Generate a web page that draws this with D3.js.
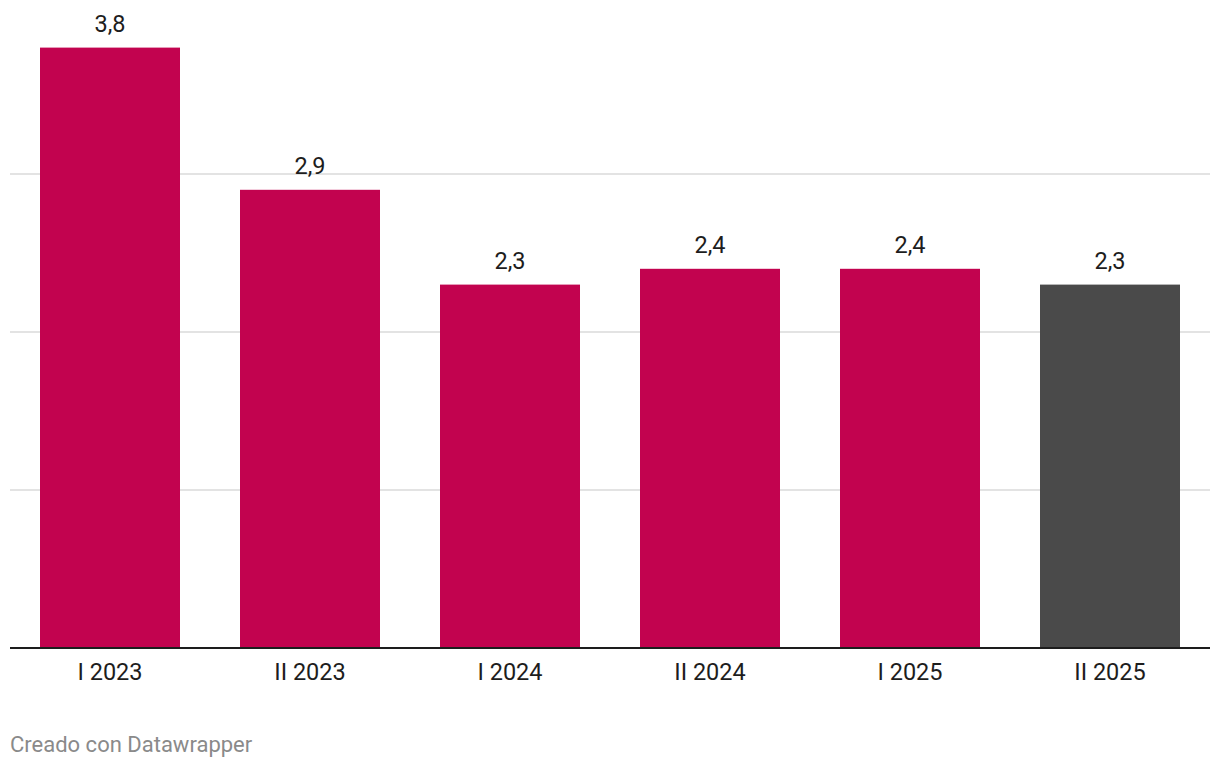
<!DOCTYPE html>
<html>
<head>
<meta charset="utf-8">
<script src="https://cdn.jsdelivr.net/npm/d3@7"></script>
<style>
  html, body { margin: 0; padding: 0; background: #fff; }
  svg { display: block; font-family: Roboto, "Noto Sans", sans-serif; }
</style>
</head>
<body>
<svg id="chart" width="1220" height="768"></svg>
<script>
const categories = ["I 2023", "II 2023", "I 2024", "II 2024", "I 2025", "II 2025"];
const values = [3.8, 2.9, 2.3, 2.4, 2.4, 2.3];
const barColors = ["#c2034f", "#c2034f", "#c2034f", "#c2034f", "#c2034f", "#4a4a4a"];
const gridTicks = [1, 2, 3];
const footerText = "Creado con Datawrapper";

const svg = d3.select("#chart");
const left = 10, right = 1210, baseline = 648;

const x = d3.scaleBand().domain(categories).range([left, right]).paddingInner(0.3).paddingOuter(0.15);
const y = d3.scaleLinear().domain([0, 1]).range([baseline, baseline - 158]);

// gridlines
svg.append("g").selectAll("line").data(gridTicks).join("line")
  .attr("x1", left).attr("x2", right)
  .attr("y1", d => y(d)).attr("y2", d => y(d))
  .attr("stroke", "#e3e3e3").attr("stroke-width", 2);

// bars
svg.append("g").selectAll("rect").data(values).join("rect")
  .attr("x", (d, i) => x(categories[i]))
  .attr("width", x.bandwidth())
  .attr("y", d => y(d))
  .attr("height", d => baseline - y(d))
  .attr("fill", (d, i) => barColors[i]);

// value labels
const fmt = v => d3.format(".1f")(v).replace(".", ",");
svg.append("g").selectAll("text").data(values).join("text")
  .attr("x", (d, i) => x(categories[i]) + x.bandwidth() / 2)
  .attr("y", d => y(d) - 16)
  .attr("text-anchor", "middle")
  .attr("font-size", 23.5)
  .attr("fill", "#1d1d1d")
  .text(d => fmt(d));

// baseline axis
svg.append("line")
  .attr("x1", left).attr("x2", right)
  .attr("y1", baseline).attr("y2", baseline)
  .attr("stroke", "#1d1d1d").attr("stroke-width", 2);

// category labels
const xAxis = d3.axisBottom(x).tickSize(0).tickPadding(0);
const gx = svg.append("g").attr("transform", `translate(0,${baseline})`).call(xAxis);
gx.select(".domain").remove();
gx.selectAll("text")
  .attr("dy", null)
  .attr("y", 32)
  .attr("font-size", 23.5)
  .attr("font-family", "Roboto, sans-serif")
  .attr("fill", "#1d1d1d");

// footer
svg.append("text")
  .attr("x", 10).attr("y", 752)
  .attr("font-size", 22)
  .attr("fill", "#8a8a8a")
  .text(footerText);
</script>
</body>
</html>
